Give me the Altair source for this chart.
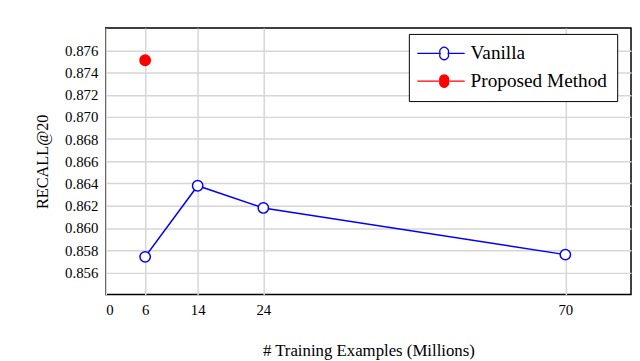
import altair as alt
import pandas as pd

series_names = ["Vanilla", "Proposed Method"]
vanilla_x = [6, 14, 24, 70]
vanilla_y = [0.8574, 0.8638, 0.8618, 0.8576]
proposed_x = [6]
proposed_y = [0.8751]
x_ticks = [0, 6, 14, 24, 70]
y_ticks = [0.856, 0.858, 0.860, 0.862, 0.864, 0.866, 0.868, 0.870, 0.872, 0.874, 0.876]

df = pd.DataFrame({
    "x": vanilla_x + proposed_x,
    "y": vanilla_y + proposed_y,
    "series": [series_names[0]] * len(vanilla_x) + [series_names[1]] * len(proposed_x),
})

FONT = "Liberation Serif"
# legend glyph: line - circle - line, drawn right of the symbol origin
sym = ("M-1.4,0L1.5,0M2.5,0L4.6,0"
       "M1.5,0A0.55,0.55 0 1,0 2.5,0A0.55,0.55 0 1,0 1.5,0Z")

x_enc = alt.X("x:Q", scale=alt.Scale(domain=[0, 80], nice=False),
              axis=alt.Axis(values=x_ticks, title="# Training Examples (Millions)",
                            format="d", grid=True, ticks=False, domain=False,
                            labelPadding=8, titlePadding=26, titleFontSize=17))
y_enc = alt.Y("y:Q", scale=alt.Scale(domain=[0.854, 0.878], nice=False, zero=False),
              axis=alt.Axis(values=y_ticks, title="RECALL@20", format=".3f",
                            grid=True, ticks=False, domain=False,
                            labelPadding=8, titlePadding=14.5, titleFontSize=16.5))

stroke_scale = alt.Scale(domain=series_names, range=["#0000ff", "#ff0000"])
fill_scale = alt.Scale(domain=series_names, range=["white", "#ff0000"])

def make_legend():
    return alt.Legend(title=None, orient="none", legendX=307, legendY=6,
                      symbolType=sym, symbolSize=256, symbolStrokeWidth=1.3,
                      labelFont=FONT, labelFontSize=19.5, labelColor="black",
                      labelOffset=33, rowPadding=7, padding=10,
                      strokeColor="black", fillColor="white")

line = alt.Chart(df).mark_line(strokeWidth=1.5).encode(
    x=x_enc, y=y_enc,
    stroke=alt.Stroke("series:N", scale=stroke_scale, legend=make_legend()),
    detail="series:N",
)
points = alt.Chart(df).mark_point(size=110, strokeWidth=1.5, opacity=1).encode(
    x=x_enc, y=y_enc,
    stroke=alt.Stroke("series:N", scale=stroke_scale, legend=make_legend()),
    fill=alt.Fill("series:N", scale=fill_scale, legend=make_legend()),
)

chart = alt.layer(line, points).properties(
    width=532, height=270,
    autosize=alt.AutoSizeParams(type="none"),
    padding={"left": 99, "top": 18, "right": 1, "bottom": 66},
).configure_view(
    stroke="black", strokeWidth=1.5
).configure_axis(
    labelFont=FONT, labelFontSize=15, labelColor="black",
    titleFont=FONT, titleColor="black", titleFontWeight="normal",
    gridColor="#d6d6d6", gridWidth=1.5,
).configure_legend(
    symbolType=sym
)

chart.save("out.html", embed_options={"renderer": "svg", "actions": False})
